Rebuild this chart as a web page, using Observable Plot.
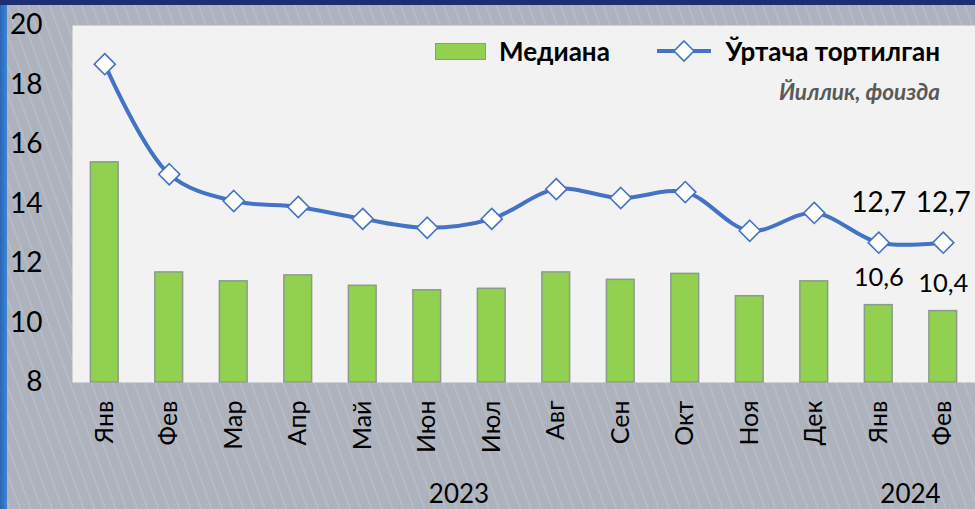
<!DOCTYPE html>
<html>
<head>
<meta charset="utf-8">
<script src="https://cdn.jsdelivr.net/npm/d3@7"></script>
<script src="https://cdn.jsdelivr.net/npm/@observablehq/plot@0.6"></script>
<style>
  html, body { margin: 0; padding: 0; }
  #wrap {
    position: relative; width: 975px; height: 509px; overflow: hidden;
    background: linear-gradient(180deg, #1b2f72 0, #1b2f72 5px, transparent 5px),
                linear-gradient(90deg, #2a66b8 0, #3d86d0 7px, transparent 7px),
                repeating-linear-gradient(70deg, rgba(255,255,255,0) 0px, rgba(255,255,255,0) 8px, rgba(215,235,245,0.16) 8px, rgba(215,235,245,0.16) 10px),
                #aeb2bd;
    font-family: Lato, "Open Sans", sans-serif;
  }
  #chart { position: absolute; left: 0; top: 0; }
  .leg { position: absolute; font-family: Lato, sans-serif; font-weight: bold; font-size: 26px; color: #000; line-height: 1; white-space: nowrap; }
  .sub { position: absolute; font-family: Lato, sans-serif; font-weight: bold; font-style: italic; font-size: 22.5px; color: #595959; white-space: nowrap; line-height: 1; }
</style>
</head>
<body>
<div id="wrap">
  <div id="chart"></div>
  <div style="position:absolute;left:435px;top:43px;width:49px;height:15px;background:#92d050;border:1.5px solid #8c9a8c;"></div>
  <div class="leg" style="left:499px;top:38px;">Медиана</div>
  <svg style="position:absolute;left:655px;top:39px;" width="60" height="24">
    <line x1="2" y1="12" x2="56" y2="12" stroke="#4472c4" stroke-width="4"/>
    <path d="M29,2 L39,12 L29,22 L19,12 Z" fill="#fff" stroke="#4472c4" stroke-width="1.6"/>
  </svg>
  <div class="leg" style="right:35px;top:38px;">Ўртача тортилган</div>
  <div class="sub" style="right:35px;top:81px;">Йиллик, фоизда</div>
</div>
<script>
const months = ["Янв","Фев","Мар","Апр","Май","Июн","Июл","Авг","Сен","Окт","Ноя","Дек","Янв","Фев"];
const years  = ["2023","2023","2023","2023","2023","2023","2023","2023","2023","2023","2023","2023","2024","2024"];
const median   = [15.4, 11.7, 11.4, 11.6, 11.25, 11.1, 11.15, 11.7, 11.45, 11.65, 10.9, 11.4, 10.6, 10.4];
const weighted = [18.7, 15.0, 14.1, 13.9, 13.5, 13.2, 13.5, 14.5, 14.2, 14.4, 13.1, 13.7, 12.7, 12.7];
const yTicks = [8, 10, 12, 14, 16, 18, 20];
const labeledFrom = 12; // data labels shown for the last two periods

const data = months.map((m, i) => ({
  key: m + " " + years[i], month: m, year: years[i],
  median: median[i], weighted: weighted[i], labeled: i >= labeledFrom
}));
const fmt = v => v.toFixed(1).replace(".", ",");

const plot = Plot.plot({
  width: 975, height: 509,
  marginLeft: 72, marginRight: 0, marginTop: 25, marginBottom: 127,
  style: { background: "transparent", fontFamily: "Lato, 'Open Sans', sans-serif", color: "#000" },
  x: { domain: data.map(d => d.key), paddingInner: 0.57, paddingOuter: 0.285, align: 0.5, round: false },
  y: { domain: [8, 20] },
  marks: [
    Plot.frame({ fill: "#f2f2f2", stroke: null }),
    Plot.barY(data, { x: "key", y1: 8, y2: "median", fill: "#92d050", stroke: "#8c9a8c", strokeWidth: 1.5 }),
    Plot.line(data, { x: "key", y: "weighted", stroke: "#4472c4", strokeWidth: 4, curve: "catmull-rom" }),
    Plot.dot(data, { x: "key", y: "weighted", symbol: "diamond2", r: 9.5, fill: "#fff", stroke: "#4472c4", strokeWidth: 1.6 }),
    Plot.text(data.filter(d => d.labeled), { x: "key", y: "weighted", text: d => fmt(d.weighted), dy: -40, fontSize: 28, fill: "#000" }),
    Plot.text(data.filter(d => d.labeled), { x: "key", y: "median", text: d => fmt(d.median), dy: -27, fontSize: 25.5, fill: "#000" }),
    Plot.axisY({ ticks: yTicks, tickSize: 0, tickPadding: 30, fontSize: 28, textAnchor: "end", label: null }),
    Plot.axisX({ tickSize: 0, tickRotate: -90, tickPadding: 18, fontSize: 25, label: null, tickFormat: k => k.split(" ")[0] })
  ]
});
document.getElementById("chart").appendChild(plot);

// year group labels, centred under their months via the plot's own x scale
const xs = plot.scale("x");
const svg = d3.select(plot);
d3.groups(data, d => d.year).forEach(([yr, rows]) => {
  const a = xs.apply(rows[0].key), b = xs.apply(rows[rows.length - 1].key) + xs.bandwidth;
  svg.append("text")
    .attr("x", (a + b) / 2).attr("y", 503)
    .attr("text-anchor", "middle")
    .attr("font-size", 26).attr("font-family", "Lato, 'Open Sans', sans-serif")
    .attr("fill", "#000")
    .text(yr);
});
</script>
</body>
</html>
